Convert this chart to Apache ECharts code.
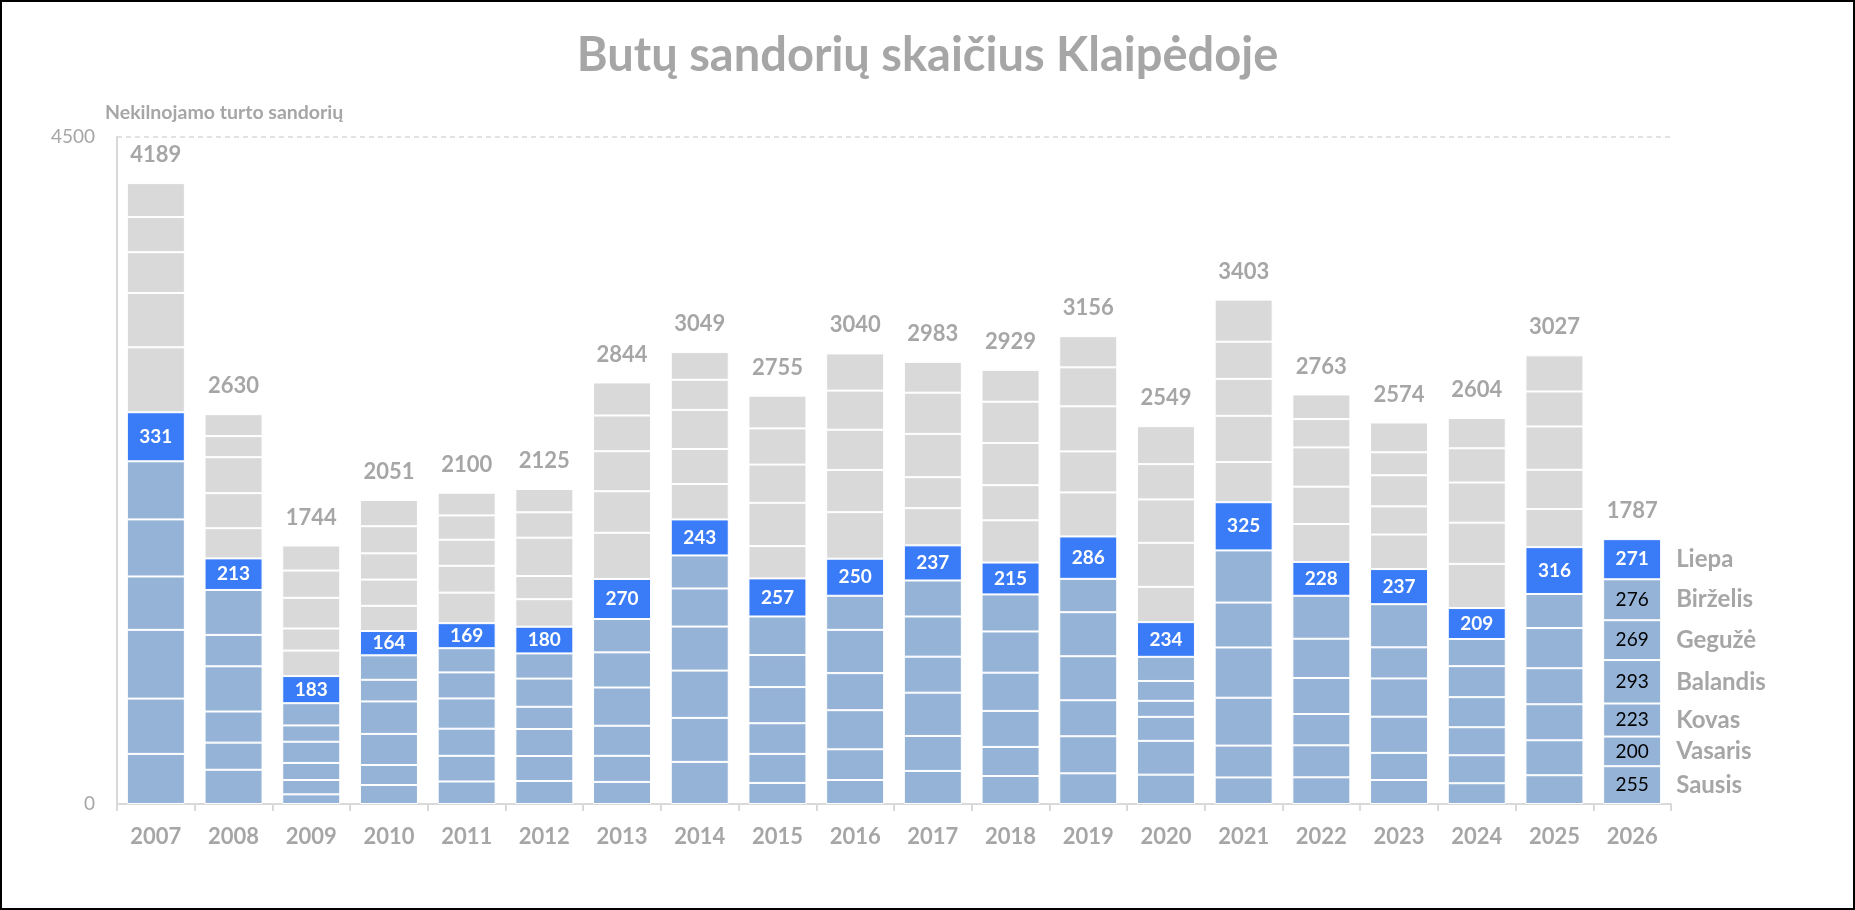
<!DOCTYPE html>
<html>
<head>
<meta charset="utf-8">
<title>Butų sandorių skaičius Klaipėdoje</title>
<script src="https://cdn.jsdelivr.net/npm/echarts@6/dist/echarts.min.js"></script>
<style>
  html, body { margin: 0; padding: 0; background: #fff; }
  #chart { width: 1855px; height: 910px; }
  #frame {
    position: absolute; left: 0; top: 0; width: 1855px; height: 910px;
    box-sizing: border-box; border: 2px solid #000; pointer-events: none;
  }
</style>
</head>
<body>
<div id="chart"></div>
<div id="frame"></div>
<script>
const years = ["2007", "2008", "2009", "2010", "2011", "2012", "2013", "2014", "2015", "2016",
  "2017", "2018", "2019", "2020", "2021", "2022", "2023", "2024", "2025", "2026"];

const monthNames = ["Sausis", "Vasaris", "Kovas", "Balandis", "Gegužė", "Birželis",
  "Liepa", "Rugpjūtis", "Rugsėjis", "Spalis", "Lapkritis", "Gruodis"];

// sandoriai pagal mėnesį, 2007 ... 2026
const sausis    = [338, 231, 65, 128, 152, 155, 149, 284, 142, 162, 223, 189, 207, 198, 179, 180, 162, 140, 194, 255];
const vasaris   = [373, 183, 97, 135, 173, 169, 176, 297, 196, 207, 236, 196, 250, 228, 215, 216, 183, 189, 236, 200];
const kovas     = [464, 210, 115, 210, 183, 182, 203, 319, 207, 264, 292, 243, 243, 162, 323, 211, 244, 189, 243, 223];
const balandis  = [360, 305, 143, 219, 204, 150, 258, 297, 244, 250, 243, 258, 297, 108, 339, 243, 258, 203, 243, 293];
const geguze    = [385, 212, 110, 146, 176, 190, 237, 257, 216, 292, 271, 278, 297, 134, 303, 265, 210, 209, 271, 269];
const birzelis  = [392, 303, 150, 165, 163, 170, 225, 223, 260, 230, 243, 250, 225, 163, 352, 290, 291, 183, 230, 276];
const liepa     = [331, 213, 183, 164, 169, 180, 270, 243, 257, 250, 237, 215, 286, 234, 325, 228, 237, 209, 316, 271];
const rugpjutis = [438, 204, 172, 170, 206, 186, 312, 239, 218, 314, 251, 285, 297, 238, 271, 256, 233, 298, 257, null];
const rugsejis  = [367, 236, 149, 177, 181, 156, 280, 236, 292, 285, 209, 237, 277, 297, 312, 252, 190, 278, 265, null];
const spalis    = [275, 243, 207, 177, 176, 259, 270, 264, 258, 271, 292, 285, 304, 293, 249, 265, 210, 271, 292, null];
const lapkritis = [237, 142, 184, 183, 164, 171, 241, 203, 244, 264, 278, 278, 263, 238, 251, 191, 155, 231, 236, null];
const gruodis   = [229, 148, 169, 177, 153, 157, 223, 187, 221, 251, 208, 215, 210, 256, 284, 166, 201, 204, 244, null];

const yTicks = [0, 4500];

const months = [sausis, vasaris, kovas, balandis, geguze, birzelis,
  liepa, rugpjutis, rugsejis, spalis, lapkritis, gruodis];

const FONT = "Lato";
const GREY_TEXT = "#A6A6A6";
const BAR_W = 58;
const lastIdx = years.length - 1;

// metinės sumos skaičiuojamos iš mėnesių
const totals = years.map((y, i) =>
  months.reduce((s, arr) => s + (arr[i] == null ? 0 : arr[i]), 0));

const colorFor = (m) => (m < 6 ? "#95B3D7" : m === 6 ? "#3A7BF7" : "#D9D9D9");

const series = months.map((arr, m) => {
  const isJuly = m === 6;
  const data = arr.map((v, i) => {
    if (v == null) return "-";
    if (i === lastIdx && m <= 6) {
      // paskutiniais metais: reikšmė juostoje + mėnesio pavadinimas dešinėje
      return {
        value: v,
        label: {
          show: true,
          position: "insideLeft",
          distance: 0,
          formatter: (p) => "{v|" + p.value + "}{n|" + monthNames[m] + "}",
          rich: {
            v: {
              width: BAR_W,
              align: "center",
              fontFamily: FONT,
              fontSize: 19,
              fontWeight: isJuly ? "bold" : "normal",
              color: isJuly ? "#fff" : "#000",
            },
            n: {
              padding: [0, 0, 0, 15],
              fontFamily: FONT,
              fontSize: 24,
              fontWeight: "bold",
              color: GREY_TEXT,
            },
          },
        },
      };
    }
    return v;
  });
  return {
    name: monthNames[m],
    type: "bar",
    stack: "metai",
    barWidth: BAR_W,
    data: data,
    itemStyle: { color: colorFor(m), borderColor: "#fff", borderWidth: 1 },
    label: {
      show: isJuly,
      position: "inside",
      color: "#fff",
      fontFamily: FONT,
      fontWeight: "bold",
      fontSize: 19,
    },
    emphasis: { disabled: true },
  };
});

// nulinė juosta viršuje sumai parodyti
series.push({
  name: "Iš viso",
  type: "bar",
  stack: "metai",
  barWidth: BAR_W,
  data: totals.map(() => 0),
  itemStyle: { color: "transparent" },
  label: {
    show: true,
    position: "top",
    distance: 17,
    formatter: (p) => String(totals[p.dataIndex]),
    color: GREY_TEXT,
    fontFamily: FONT,
    fontWeight: "bold",
    fontSize: 22,
  },
  emphasis: { disabled: true },
});

const chart = echarts.init(document.getElementById("chart"));

const options = {
  animation: false,
  title: [
    {
      text: "Butų sandorių skaičius Klaipėdoje",
      left: "center",
      top: 27,
      textStyle: { fontFamily: FONT, fontSize: 47, fontWeight: "bold", color: GREY_TEXT },
    },
    {
      text: "Nekilnojamo turto sandorių",
      left: 100,
      top: 98,
      textStyle: { fontFamily: FONT, fontSize: 19.5, fontWeight: "bold", color: GREY_TEXT },
    },
  ],
  grid: { left: 117, right: 184, top: 137, bottom: 106, containLabel: false },
  xAxis: {
    type: "category",
    data: years,
    axisLine: { lineStyle: { color: "#D9D9D9", width: 2 } },
    axisTick: { show: true, length: 7, lineStyle: { color: "#D9D9D9", width: 2 } },
    axisLabel: {
      margin: 22,
      color: GREY_TEXT,
      fontFamily: FONT,
      fontWeight: "bold",
      fontSize: 22,
    },
  },
  yAxis: {
    type: "value",
    min: yTicks[0],
    max: yTicks[1],
    interval: yTicks[1] - yTicks[0],
    axisLine: { show: true, lineStyle: { color: "#D9D9D9", width: 2 } },
    axisTick: { show: false },
    axisLabel: {
      margin: 22,
      color: GREY_TEXT,
      fontFamily: FONT,
      fontSize: 19,
      formatter: (v) => String(v),
    },
    splitLine: { show: true, lineStyle: { color: "#D9D9D9", width: 1.5, type: [5, 4] } },
  },
  series: series,
};

chart.setOption(options);
</script>
</body>
</html>
